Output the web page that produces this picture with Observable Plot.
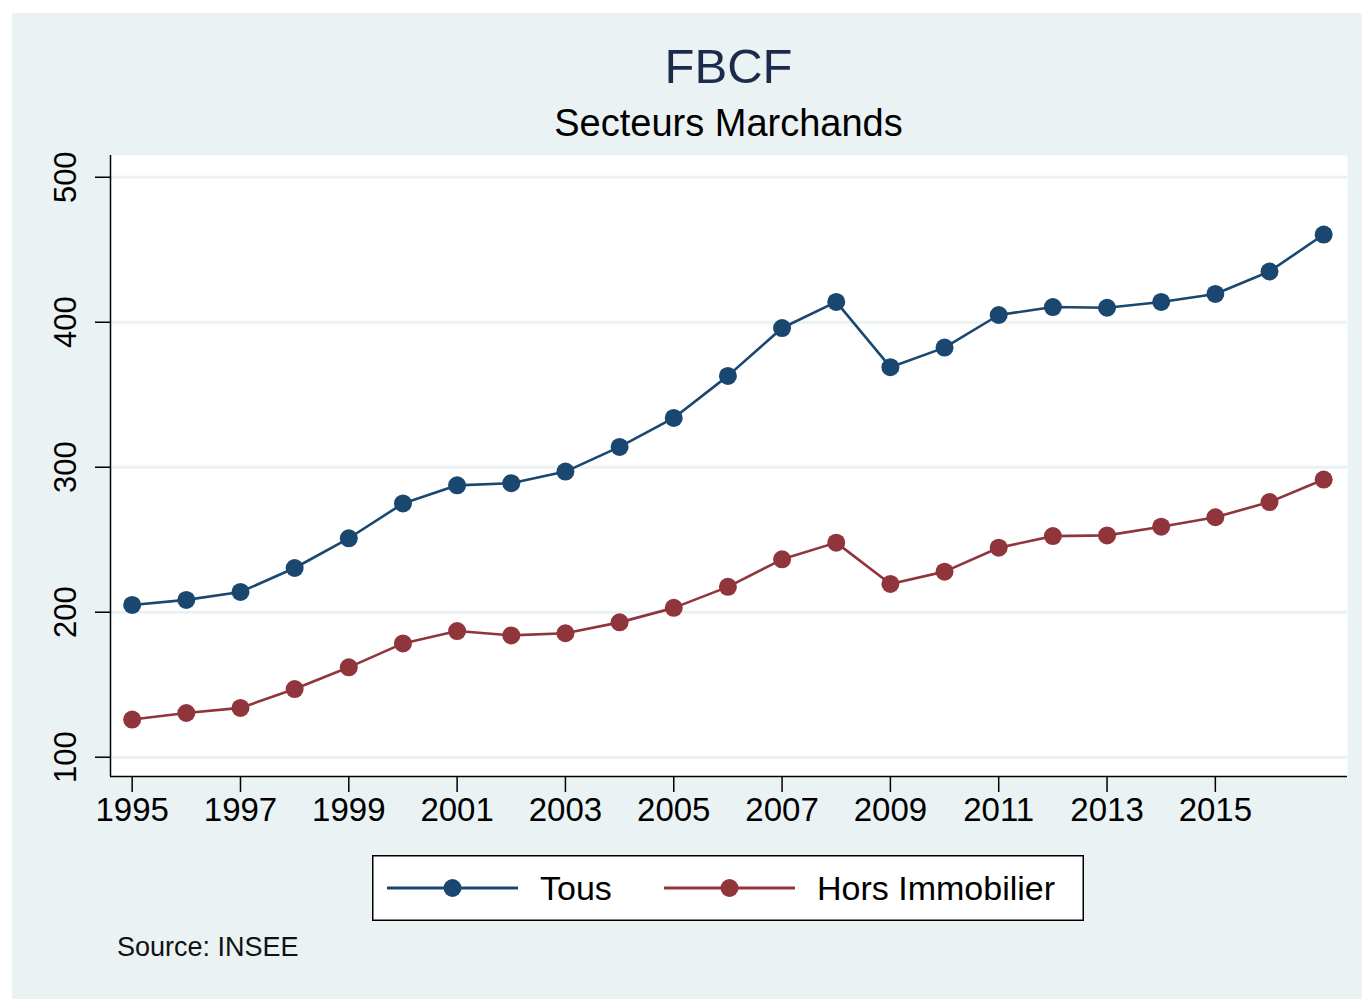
<!DOCTYPE html>
<html>
<head>
<meta charset="utf-8">
<script src="https://cdn.jsdelivr.net/npm/d3@7"></script>
<script src="https://cdn.jsdelivr.net/npm/@observablehq/plot@0.6"></script>
<style>
  body { margin: 0; background: #ffffff; font-family: "Liberation Sans", Arial, sans-serif; }
  #panel { position: absolute; left: 12px; top: 13px; width: 1350px; height: 986px; background: #eaf2f3; overflow: hidden; }
  #title { position: absolute; left: 98px; width: 1237px; top: 29px; text-align: center; font-size: 49px; line-height: 49px; color: #1c2b4b; }
  #subtitle { position: absolute; left: 98px; width: 1237px; top: 91px; text-align: center; font-size: 38px; line-height: 38px; color: #000; }
  #chart { position: absolute; left: 0; top: 125px; }
  #legend { position: absolute; left: 360px; top: 842px; }
  #source { position: absolute; left: 105px; top: 921px; font-size: 27px; line-height: 27px; color: #111; }
</style>
</head>
<body>
<div id="panel">
  <div id="title">FBCF</div>
  <div id="subtitle">Secteurs Marchands</div>
  <div id="chart"></div>
  <div id="legend"></div>
  <div id="source">Source: INSEE</div>
</div>
<script>
// ---- Data ----
const years = [1995, 1996, 1997, 1998, 1999, 2000, 2001, 2002, 2003, 2004, 2005, 2006,
               2007, 2008, 2009, 2010, 2011, 2012, 2013, 2014, 2015, 2016, 2017];
const tous = [205, 208.5, 214, 230.5, 251, 275, 287.5, 289, 297, 314, 334, 363,
              396, 414, 369, 382.5, 405, 410.5, 410, 414, 419.5, 435, 460.5];
const horsImmobilier = [126, 130.5, 134, 147, 162, 178.5, 187, 184, 185.5, 193, 203, 217.5,
                        236.5, 248, 219.5, 228, 244.5, 252.5, 253, 259, 265.5, 276, 291.5];
const seriesNames = ["Tous", "Hors Immobilier"];
const seriesColors = ["#1a476f", "#90353b"];
const xTicks = [1995, 1997, 1999, 2001, 2003, 2005, 2007, 2009, 2011, 2013, 2015];
const yTicks = [100, 200, 300, 400, 500];

const data = [];
years.forEach((y, i) => {
  data.push({year: y, value: tous[i], series: seriesNames[0]});
  data.push({year: y, value: horsImmobilier[i], series: seriesNames[1]});
});

const xDomain = [1994.6, 2017.44];
const yDomain = [86.7, 515];

const chart = Plot.plot({
  width: 1350,
  height: 692,
  marginLeft: 98,
  marginRight: 15,
  marginTop: 17,
  marginBottom: 54,
  style: {background: "transparent", fontFamily: "\"Liberation Sans\", Arial, sans-serif", color: "black", overflow: "visible"},
  x: {domain: xDomain, axis: null, label: null},
  y: {domain: yDomain, axis: null, label: null},
  color: {domain: seriesNames, range: seriesColors},
  marks: [
    Plot.frame({fill: "white", stroke: "none"}),
    Plot.ruleY(yTicks, {stroke: "#eaf2f3", strokeWidth: 3}),
    Plot.ruleX([xDomain[0]], {stroke: "black", strokeWidth: 1.5}),
    Plot.ruleY([yDomain[0]], {stroke: "black", strokeWidth: 1.5}),
    Plot.axisY({ticks: yTicks, tickSize: 15, tickFormat: () => "", strokeWidth: 1.5, label: null}),
    Plot.text(yTicks, {y: d => d, text: d => String(d), frameAnchor: "left", textAnchor: "middle", lineAnchor: "middle", dx: -44, rotate: -90, fontSize: 31, fill: "black"}),
    Plot.axisX({ticks: xTicks, tickSize: 16, tickPadding: 5, fontSize: 33, tickFormat: d => String(d), strokeWidth: 1.5, label: null}),
    Plot.line(data, {x: "year", y: "value", z: "series", stroke: "series", strokeWidth: 2.6}),
    Plot.dot(data, {x: "year", y: "value", fill: "series", r: 9, stroke: "none"})
  ]
});
document.getElementById("chart").appendChild(chart);

// ---- Legend ----
const legendItems = [
  {name: seriesNames[0], color: seriesColors[0], x0: 15, text: 168},
  {name: seriesNames[1], color: seriesColors[1], x0: 292, text: 445}
];
const ns = "http://www.w3.org/2000/svg";
const lg = document.createElementNS(ns, "svg");
lg.setAttribute("width", 712);
lg.setAttribute("height", 66);
const box = document.createElementNS(ns, "rect");
box.setAttribute("x", 0.75); box.setAttribute("y", 0.75);
box.setAttribute("width", 710.5); box.setAttribute("height", 64.5);
box.setAttribute("fill", "white"); box.setAttribute("stroke", "black"); box.setAttribute("stroke-width", 1.5);
lg.appendChild(box);
legendItems.forEach(it => {
  const l = document.createElementNS(ns, "line");
  l.setAttribute("x1", it.x0); l.setAttribute("x2", it.x0 + 131);
  l.setAttribute("y1", 33); l.setAttribute("y2", 33);
  l.setAttribute("stroke", it.color); l.setAttribute("stroke-width", 3);
  lg.appendChild(l);
  const c = document.createElementNS(ns, "circle");
  c.setAttribute("cx", it.x0 + 65.5); c.setAttribute("cy", 33); c.setAttribute("r", 9);
  c.setAttribute("fill", it.color);
  lg.appendChild(c);
  const t = document.createElementNS(ns, "text");
  t.setAttribute("x", it.text); t.setAttribute("y", 33);
  t.setAttribute("dy", "0.36em");
  t.setAttribute("font-size", 34);
  t.setAttribute("font-family", "\"Liberation Sans\", Arial, sans-serif");
  t.setAttribute("fill", "black");
  t.textContent = it.name;
  lg.appendChild(t);
});
document.getElementById("legend").appendChild(lg);
</script>
</body>
</html>
